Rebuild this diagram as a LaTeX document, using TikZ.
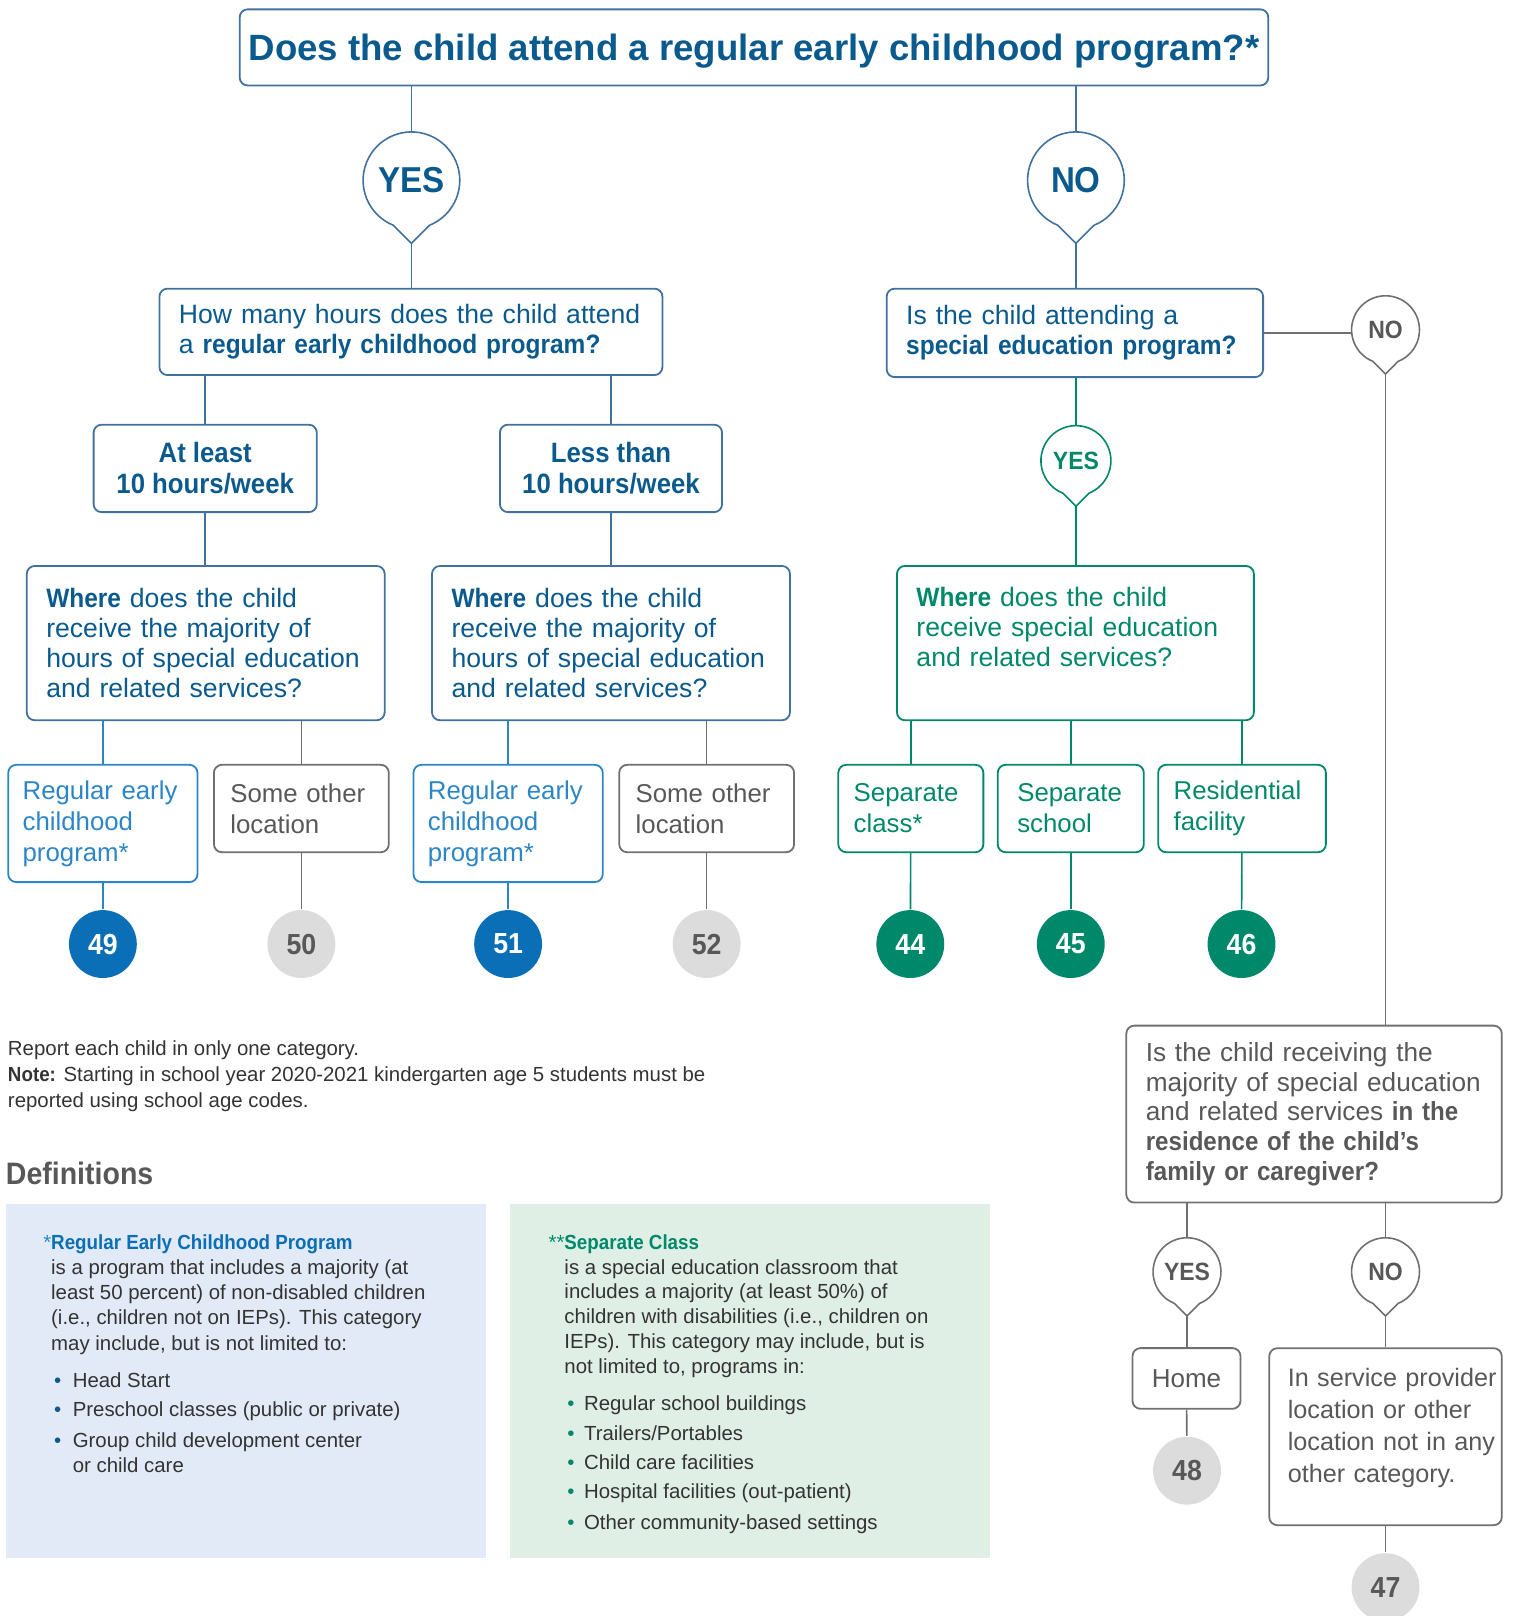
\documentclass[tikz,border=0pt]{standalone}
\usepackage{fontspec}
\setmainfont{Liberation Sans}[BoldFeatures={FakeStretch=0.92}]
\newfontfamily\headfont{Liberation Sans}
\usetikzlibrary{calc}
\hyphenpenalty=10000
\exhyphenpenalty=10000

\definecolor{navy}{HTML}{0B5A8E}
\definecolor{navyline}{HTML}{41719E}
\definecolor{brightblue}{HTML}{0A6FB6}
\definecolor{regblue}{HTML}{2C86C6}
\definecolor{edgreen}{HTML}{00886A}
\definecolor{greyline}{HTML}{707070}
\definecolor{greytext}{HTML}{585858}
\definecolor{greyfill}{HTML}{DCDCDC}
\definecolor{bluepanel}{HTML}{E1EAF6}
\definecolor{greenpanel}{HTML}{E0EFE6}
\definecolor{bodytext}{HTML}{333333}

% one unit of the picture
\newcommand{\un}{0.5143pt}
\newcommand{\defbullet}[2][10.8pt]{\makebox[#1][l]{\hspace*{1.5pt}\textcolor{#2}{\textbullet}}}
% speech bubble: style, name, centre, radius, colour, label
\newcommand{\bubble}[6][]{%
  \node[bubbletext, text=#5, minimum size=2*#4*\un, #1] (#2) at #3 {#6};
  \draw[#5] (#2.center) ++(112:#4) arc[start angle=112, end angle=428, radius=#4]
    -- ($(#2.center)+(0,1.3*#4)$) coordinate (#2tip) -- cycle;
}

\tikzset{
  qbox/.style={draw, rounded corners=4pt, line width=0.9pt, inner ysep=0pt},
  centrebox/.style={qbox, align=center, inner xsep=0pt},
  leftbox/.style={qbox, align=left},
  bubbletext/.style={circle, inner sep=0pt, font=\bfseries\fontsize{18}{18}\selectfont},
  smallbub/.style={font=\bfseries\fontsize{12.5}{12.5}\selectfont},
  numdot/.style={circle, minimum size=66*\un, inner sep=0pt, font=\bfseries\fontsize{14.5}{14.5}\selectfont},
  qfont/.style={font=\fontsize{13.3}{15}\selectfont},
  locfont/.style={font=\fontsize{12.9}{15.5}\selectfont},
  plaintext/.style={anchor=north west, inner sep=0pt, align=left, text=bodytext},
}

\begin{document}
\begin{tikzpicture}[x=0.5143pt, y=-0.5153pt, line width=0.8pt]
\useasboundingbox (0,0) rectangle (1470,1568);

% the first question
\node[centrebox, draw=navyline, text=navy, minimum width=1000*\un, minimum height=74*\un, text depth=0pt,
  font=\headfont\bfseries\fontsize{18.3}{20}\selectfont] (title) at (733,46)
  {Does the child attend a regular early childhood program?*};
\bubble[text=navy]{yes1}{(400,175)}{47}{navyline}{YES}
\bubble[text=navy]{no1}{(1046,175)}{47}{navyline}{NO}
\draw[navyline] (title.south -| yes1.north) -- (yes1.north);
\draw[navyline] (title.south -| no1.north) -- (no1.north);

% YES: hours in the program
\node[leftbox, draw=navyline, text=navy, qfont, minimum height=84*\un, text width=451*\un, inner xsep=19*\un] (hours) at (399.5,322)
  {How many hours does the child attend\\a \textbf{regular early childhood program?}};
\draw[navyline] (yes1tip) -- (yes1tip |- hours.north);
\node[centrebox, draw=navyline, text=navy, minimum width=217*\un, minimum height=85*\un,
  font=\bfseries\fontsize{14}{15.4}\selectfont] (atleast) at (199.5,454.5) {At least\\10 hours/week};
\node[centrebox, draw=navyline, text=navy, minimum width=216*\un, minimum height=85*\un,
  font=\bfseries\fontsize{14}{15.4}\selectfont] (lessthan) at (594,454.5) {Less than\\10 hours/week};
\draw[navyline] (hours.south -| atleast.north) -- (atleast.north);
\draw[navyline] (hours.south -| lessthan.north) -- (lessthan.north);

\node[leftbox, draw=navyline, text=navy, qfont, minimum height=150*\un, text width=310*\un, inner xsep=19*\un] (where1) at (200,624)
  {\textbf{Where} does the child\\receive the majority of\\hours of special education\\and related services?};
\node[leftbox, draw=navyline, text=navy, qfont, minimum height=150*\un, text width=310*\un, inner xsep=19*\un] (where2) at (594,624)
  {\textbf{Where} does the child\\receive the majority of\\hours of special education\\and related services?};
\draw[navyline] (atleast.south) -- (atleast.south |- where1.north);
\draw[navyline] (lessthan.south) -- (lessthan.south |- where2.north);

% locations under each hours branch
\node[leftbox, draw=regblue, text=regblue, locfont, minimum height=114*\un, text width=156*\un, inner xsep=14*\un] (reg1) at (100,799)
  {Regular early\\childhood\\program*};
\node[leftbox, draw=greyline, text=greytext, locfont, minimum height=85*\un, text width=138*\un, inner xsep=16*\un] (other1) at (293,784.5)
  {Some other\\location};
\node[leftbox, draw=regblue, text=regblue, locfont, minimum height=114*\un, text width=156*\un, inner xsep=14*\un] (reg2) at (494,799)
  {Regular early\\childhood\\program*};
\node[leftbox, draw=greyline, text=greytext, locfont, minimum height=85*\un, text width=138*\un, inner xsep=16*\un] (other2) at (687,784.5)
  {Some other\\location};
\draw[regblue] (reg1.north) -- (reg1.north |- where1.south);
\draw[greyline] (other1.north) -- (other1.north |- where1.south);
\draw[regblue] (reg2.north) -- (reg2.north |- where2.south);
\draw[greyline] (other2.north) -- (other2.north |- where2.south);

\node[numdot, fill=brightblue, text=white] (c49) at (100,916) {49};
\node[numdot, fill=greyfill, text=greytext] (c50) at (293,916) {50};
\node[numdot, fill=brightblue, text=white] (c51) at (494,916) {51};
\node[numdot, fill=greyfill, text=greytext] (c52) at (687,916) {52};
\draw[regblue] (reg1) -- (c49);
\draw[greyline] (other1) -- (c50);
\draw[regblue] (reg2) -- (c51);
\draw[greyline] (other2) -- (c52);

% NO: special education program
\node[leftbox, draw=navyline, text=navy, qfont, minimum height=86*\un, text width=328*\un, inner xsep=19*\un] (sped) at (1045,323)
  {Is the child attending a\\\textbf{special education program?}};
\draw[navyline] (no1tip) -- (no1tip |- sped.north);
\bubble[smallbub]{yes2}{(1046,447)}{34}{edgreen}{YES}
\draw[edgreen] (sped.south -| yes2.north) -- (yes2.north);
\node[leftbox, draw=edgreen, text=edgreen, qfont, minimum height=150*\un, text width=309*\un, inner xsep=19*\un] (where3) at (1045.5,624)
  {\textbf{Where} does the child\\receive special education\\and related services?\par\vspace*{16.5pt}};
\draw[edgreen] (yes2tip) -- (yes2tip |- where3.north);

\node[leftbox, draw=edgreen, text=edgreen, locfont, minimum height=85*\un, text width=111*\un, inner xsep=15*\un] (sepclass) at (885.5,784.5)
  {Separate\\class*};
\node[leftbox, draw=edgreen, text=edgreen, locfont, minimum height=85*\un, text width=104*\un, inner xsep=19*\un] (sepschool) at (1041,784.5)
  {Separate\\school};
\node[leftbox, draw=edgreen, text=edgreen, locfont, minimum height=85*\un, text width=133*\un, inner xsep=15*\un] (resid) at (1207.5,784.5)
  {Residential\\facility};
\draw[edgreen] (sepclass.north) -- (sepclass.north |- where3.south);
\draw[edgreen] (sepschool.north) -- (sepschool.north |- where3.south);
\draw[edgreen] (resid.north) -- (resid.north |- where3.south);

\node[numdot, fill=edgreen, text=white] (c44) at (885,916) {44};
\node[numdot, fill=edgreen, text=white] (c45) at (1041,916) {45};
\node[numdot, fill=edgreen, text=white] (c46) at (1207,916) {46};
\draw[edgreen] (sepclass) -- (c44);
\draw[edgreen] (sepschool) -- (c45);
\draw[edgreen] (resid) -- (c46);

% not a special education program
\bubble[smallbub, text=greytext]{no2}{(1347,320)}{33}{greyline}{NO}
\draw[greyline] (sped.east) -- (sped.east -| no2.west);
\node[leftbox, draw=greyline, text=greytext, font=\fontsize{13.1}{14.9}\selectfont, minimum height=172*\un, text width=327*\un, inner xsep=19*\un] (res) at (1277.5,1081)
  {Is the child receiving the\\\mbox{majority of special education}\\and related services \textbf{in the}\\\textbf{residence of the child’s}\\\textbf{family or caregiver?}};
\draw[greyline] (no2tip) -- (no2tip |- res.north);

\bubble[smallbub, text=greytext]{yes3}{(1154,1234)}{33}{greyline}{YES}
\bubble[smallbub, text=greytext]{no3}{(1347,1234)}{33}{greyline}{NO}
\draw[greyline] (res.south -| yes3.north) -- (yes3.north);
\draw[greyline] (res.south -| no3.north) -- (no3.north);
\node[centrebox, draw=greyline, text=greytext, font=\fontsize{13}{13}\selectfont, minimum width=105*\un, minimum height=59*\un] (home) at (1153.5,1337.5) {Home};
\node[leftbox, draw=greyline, text=greytext, font=\fontsize{12.6}{16}\selectfont, minimum height=172*\un, text width=190*\un, inner xsep=18*\un] (provider) at (1347,1394)
  {\mbox{In service provider}\\location or other\\\mbox{location not in any}\\other category.\par\vspace*{8.8pt}};
\draw[greyline] (yes3tip) -- (yes3tip |- home.north);
\draw[greyline] (no3tip) -- (no3tip |- provider.north);
\node[numdot, fill=greyfill, text=greytext] (c48) at (1154,1427) {48};
\node[numdot, fill=greyfill, text=greytext] (c47) at (1347,1540) {47};
\draw[greyline] (home) -- (c48);
\draw[greyline] (provider) -- (c47);

% notes and definitions
\node[plaintext, font=\fontsize{10.2}{12.9}\selectfont] (notes) at (7,1009)
  {Report each child in only one category.\\
   \textbf{Note:} Starting in school year 2020-2021 kindergarten age 5 students must be\\
   reported using school age codes.};
\node[plaintext, text=greytext, font=\bfseries\fontsize{15.5}{15.5}\selectfont] (defhead) at (5,1127) {Definitions};

\node[fill=bluepanel, minimum width=466*\un, minimum height=344*\un, inner sep=0pt] (defreg) at (239,1340) {};
\node[fill=greenpanel, minimum width=466*\un, minimum height=344*\un, inner sep=0pt] (defsep) at (729,1340) {};

\node[plaintext, font=\fontsize{10.2}{12.6}\selectfont] (defregtext) at (49,1197)
  {\llap{\color{regblue}*}{\color{brightblue}\bfseries Regular Early Childhood Program}\\
   is a program that includes a majority (at\\
   least 50 percent) of non-disabled children\\
   (i.e., children not on IEPs). This category\\
   may include, but is not limited to:\\[6pt]
   \defbullet{navy}Head Start\\[2pt]
   \defbullet{navy}Preschool classes (public or private)\\[3pt]
   \defbullet{navy}Group child development center\\
   \hspace*{10.8pt}or child care};
\node[plaintext, font=\fontsize{10.2}{12.4}\selectfont] (defseptext) at (548,1197)
  {\llap{\color{edgreen}**}{\color{edgreen}\bfseries Separate Class}\\
   is a special education classroom that\\
   includes a majority (at least 50\%) of\\
   children with disabilities (i.e., children on\\
   IEPs). This category may include, but is\\
   not limited to, programs in:\\[6pt]
   \defbullet[9.8pt]{edgreen}Regular school buildings\\[3pt]
   \defbullet[9.8pt]{edgreen}Trailers/Portables\\[2pt]
   \defbullet[9.8pt]{edgreen}Child care facilities\\[2pt]
   \defbullet[9.8pt]{edgreen}Hospital facilities (out-patient)\\[3pt]
   \defbullet[9.8pt]{edgreen}Other community-based settings};
\end{tikzpicture}
\end{document}
